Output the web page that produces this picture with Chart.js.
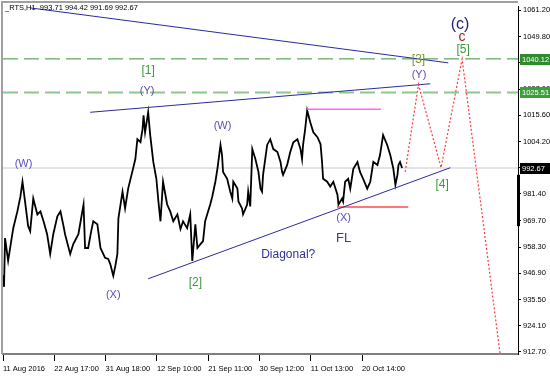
<!DOCTYPE html>
<html>
<head>
<meta charset="utf-8">
<script src="https://cdn.jsdelivr.net/npm/chart.js@4/dist/chart.umd.min.js"></script>
<style>
  body { margin: 0; background: #fff; }
  canvas { display: block; }
</style>
</head>
<body>
<canvas id="myChart" width="550" height="377"></canvas>
<script>
// hourly bar index (0 = 11 Aug 2016 open) and close prices
const hourIndex = [
  0, 2, 4, 10, 16, 20, 28, 34, 38, 43,
  49, 53, 59, 67, 73, 79, 86, 92, 98, 106,
  112, 118, 121, 127, 131, 137, 147, 153, 157, 160,
  166, 172, 176, 184, 190, 199, 205, 209, 215, 219,
  223, 225, 233, 238, 244, 252, 258, 262, 268, 272,
  274, 277, 283, 287, 293, 299, 303, 307, 312, 320,
  326, 332, 340, 346, 351, 359, 365, 369, 375, 379,
  385, 390, 394, 398, 404, 408, 414, 418, 424, 427,
  429, 437, 443, 447, 449, 457, 459, 466, 468, 476,
  478, 482, 486, 492, 498, 502, 505, 507, 515, 521,
  527, 535, 541, 544, 546, 554, 560, 566, 574, 580,
  583, 585, 589, 593, 599, 605, 613, 619, 622, 624,
  632, 638, 644, 652, 654, 661, 663, 667, 673, 677,
  683, 691, 696, 702, 710, 716, 722, 730, 735, 741,
  749, 755, 761, 765, 769, 771, 774, 778
];
const closePrice = [
  946.0, 941.0, 962.2, 952.3, 960.9, 966.5, 973.8, 980.3, 986.7, 978.1,
  967.4, 965.2, 979.4, 972.5, 973.8, 969.5, 963.9, 955.3, 963.9, 971.7,
  973.8, 967.4, 963.9, 958.7, 955.3, 959.6, 963.9, 971.7, 976.8, 957.9,
  957.9, 965.2, 969.5, 968.2, 957.9, 953.6, 953.1, 951.0, 945.8, 950.1,
  955.3, 970.8, 982.4, 975.1, 983.7, 991.0, 996.6, 1005.2, 1003.9, 1009.5,
  1015.6, 1008.2, 1016.9, 1007.0, 995.3, 988.0, 978.1, 969.5, 986.7, 976.8,
  973.8, 969.5, 972.5, 966.1, 969.5, 966.5, 972.5, 952.3, 968.2, 957.9,
  959.6, 960.9, 969.5, 972.5, 976.8, 980.3, 986.7, 992.3, 1002.7, 998.3,
  991.0, 988.0, 982.4, 979.4, 986.7, 983.7, 978.1, 975.1, 972.5, 976.8,
  982.4, 976.0, 1000.9, 996.6, 991.0, 983.7, 982.4, 989.7, 1002.7, 1005.2,
  1000.9, 999.6, 995.3, 991.0, 989.7, 994.0, 999.6, 1003.9, 1005.2, 1000.9,
  996.6, 1002.7, 1009.5, 1017.7, 1012.6, 1008.2, 1006.1, 1003.1, 995.3, 988.0,
  986.7, 984.6, 986.7, 981.1, 976.8, 979.4, 978.1, 986.7, 988.0, 983.7,
  992.3, 995.3, 991.0, 988.0, 983.7, 986.7, 995.3, 994.0, 998.3, 1007.0,
  1002.7, 998.3, 992.3, 985.4, 989.7, 994.0, 995.3, 992.67
];

const timeTicks = [0, 100, 200, 300, 400, 500, 600, 700];
const timeLabels = ['11 Aug 2016', '22 Aug 17:00', '31 Aug 18:00', '12 Sep 10:00',
  '21 Sep 11:00', '30 Sep 12:00', '11 Oct 13:00', '20 Oct 14:00'];
const priceTicks = [1061.20, 1049.80, 1038.40, 1027.00, 1015.60, 1004.20, 992.80,
  981.40, 969.70, 958.30, 946.90, 935.50, 924.10, 912.70];

// drawn lines (bar index, price)
const upperLineBars = [53, 868], upperLinePrices = [1062.3, 1038.4];
const topChannelBars = [170, 833], topChannelPrices = [1016.9, 1029.3];
const trendBars = [283, 872], trendPrices = [944.5, 992.8];
const pinkBars = [593, 737], pinkPrices = [1018.2, 1018.2];
const redBars = [651, 790], redPrices = [975.7, 975.7];
const projBars = [784, 810, 854, 895, 969], projPrices = [991.0, 1029.0, 992.8, 1040.1, 912.0];
const levelHigh = 1040.12, levelLow = 1025.51, lastPrice = 992.67;
const fullSpan = [0, 1004];

const pts = (xs, ys) => xs.map((v, i) => ({ x: v, y: ys[i] }));
const flat = (xs, v) => xs.map(b => ({ x: b, y: v }));

const FONT = 'Liberation Sans, Arial, sans-serif';
const notes = [
  { text: '(W)', bar: 40, price: 994.5, color: '#5a4fb4', size: 11 },
  { text: '(X)', bar: 215, price: 937.6, color: '#5a4fb4', size: 11 },
  { text: '[1]', bar: 283, price: 1034.9, color: '#3c9a3c', size: 12 },
  { text: '(Y)', bar: 281, price: 1026.3, color: '#5a4fb4', size: 11 },
  { text: '(W)', bar: 428, price: 1010.8, color: '#5a4fb4', size: 11 },
  { text: '[2]', bar: 375, price: 942.8, color: '#3c9a3c', size: 12 },
  { text: 'Diagonal?', bar: 556, price: 954.9, color: '#30309a', size: 12 },
  { text: '(X)', bar: 664, price: 970.8, color: '#5a4fb4', size: 11 },
  { text: 'FL', bar: 664, price: 962.2, color: '#3a3a96', size: 13 },
  { text: '[4]', bar: 856, price: 985.4, color: '#3c9a3c', size: 12 },
  { text: '(Y)', bar: 811, price: 1033.2, color: '#5a4fb4', size: 11 },
  { text: '[3]', bar: 810, price: 1039.7, color: '#7a9a2a', size: 12 },
  { text: '[5]', bar: 897, price: 1044.0, color: '#3c9a3c', size: 12 },
  { text: 'c', bar: 895, price: 1049.6, color: '#9b1b1b', size: 14 },
  { text: '(c)', bar: 891, price: 1055.2, color: '#20207a', size: 16 }
];

const extras = {
  id: 'extras',
  beforeDatasetsDraw(chart) {
    const { ctx, chartArea: a } = chart;
    ctx.save();
    ctx.strokeStyle = '#a0a0a0';
    ctx.lineWidth = 2;
    ctx.beginPath();
    ctx.moveTo(2, a.bottom);
    ctx.lineTo(2, 2);
    ctx.lineTo(a.right, 2);
    ctx.stroke();
    ctx.restore();
  },
  afterDatasetsDraw(chart) {
    const { ctx, scales: { x, y } } = chart;
    ctx.save();
    ctx.textAlign = 'center';
    ctx.textBaseline = 'middle';
    notes.forEach(n => {
      ctx.font = n.size + 'px ' + FONT;
      ctx.fillStyle = n.color;
      ctx.fillText(n.text, x.getPixelForValue(n.bar), y.getPixelForValue(n.price));
    });
    ctx.restore();
  },
  afterDraw(chart) {
    const { ctx, chartArea: a, scales: { y } } = chart;
    ctx.save();
    // thick part of the price axis
    ctx.fillStyle = '#000';
    const t1 = y.getPixelForValue(989.7), t2 = y.getPixelForValue(967.4);
    ctx.fillRect(a.right - 1, t1, 3, t2 - t1);
    // price tags
    ctx.font = '7.5px ' + FONT;
    ctx.textAlign = 'left';
    ctx.textBaseline = 'middle';
    [[levelHigh, '#2e8b2e'], [levelLow, '#3c9e3c'], [lastPrice, '#000']].forEach(([v, bg]) => {
      const py = Math.round(y.getPixelForValue(v));
      ctx.fillStyle = bg;
      ctx.fillRect(a.right + 2, py - 5, 30, 11);
      ctx.fillStyle = '#fff';
      ctx.fillText(v.toFixed(2), a.right + 4, py + 0.5);
    });
    // header
    ctx.fillStyle = '#000';
    ctx.fillText('_RTS,H1  993.71 994.42 991.69 992.67', 5, 8);
    ctx.restore();
  }
};

const line = (data, color, width, dash) => ({
  data, borderColor: color, borderWidth: width, borderDash: dash || [],
  pointRadius: 0, tension: 0, fill: false
});

const config = {
  type: 'line',
  data: {
    datasets: [
      line(pts(projBars, projPrices), '#ff3a3a', 1.2, [2, 2]),
      line(pts(upperLineBars, upperLinePrices), '#2a2a9c', 1),
      line(pts(topChannelBars, topChannelPrices), '#2a2a9c', 1),
      line(pts(trendBars, trendPrices), '#2a2a9c', 1),
      line(flat(pinkBars, pinkPrices[0]), '#ff66ff', 1.5),
      line(flat(redBars, redPrices[0]), '#ff4a4a', 1.5),
      line(pts(hourIndex, closePrice), '#000', 1.8),
      line(flat(fullSpan, levelHigh), '#3a8f3a', 1, [15, 6]),
      line(flat(fullSpan, levelLow), '#8cc88c', 2, [15, 6]),
      line(flat(fullSpan, lastPrice), '#c8c8c8', 1)
    ]
  },
  options: {
    responsive: false,
    animation: false,
    events: [],
    layout: { padding: { left: 3, top: 3, right: 0, bottom: 0 } },
    plugins: { legend: { display: false }, tooltip: { enabled: false } },
    scales: {
      x: {
        type: 'linear',
        min: 0,
        max: 1004,
        afterBuildTicks: s => { s.ticks = timeTicks.map(v => ({ value: v })); },
        afterFit: s => { s.height = 23; },
        grid: { drawOnChartArea: false, tickLength: 7, color: '#000' },
        border: { color: '#808080', width: 2 },
        ticks: {
          align: 'start', autoSkip: false, maxRotation: 0, padding: 3, color: '#000',
          font: { family: FONT, size: 7.5 },
          callback: v => timeLabels[timeTicks.indexOf(v)]
        }
      },
      y: {
        position: 'right',
        min: 911.8,
        max: 1062.9,
        afterBuildTicks: s => { s.ticks = priceTicks.map(v => ({ value: v })); },
        afterFit: s => { s.width = 32; },
        grid: { drawOnChartArea: false, tickLength: 3, color: '#000' },
        border: { color: '#000', width: 1 },
        ticks: {
          padding: 2, color: '#000',
          font: { family: FONT, size: 7.5 },
          callback: v => v.toFixed(2)
        }
      }
    }
  },
  plugins: [extras]
};

window.onload = function() {
  const ctx = document.getElementById('myChart').getContext('2d');
  new Chart(ctx, config);
};
</script>
</body>
</html>
